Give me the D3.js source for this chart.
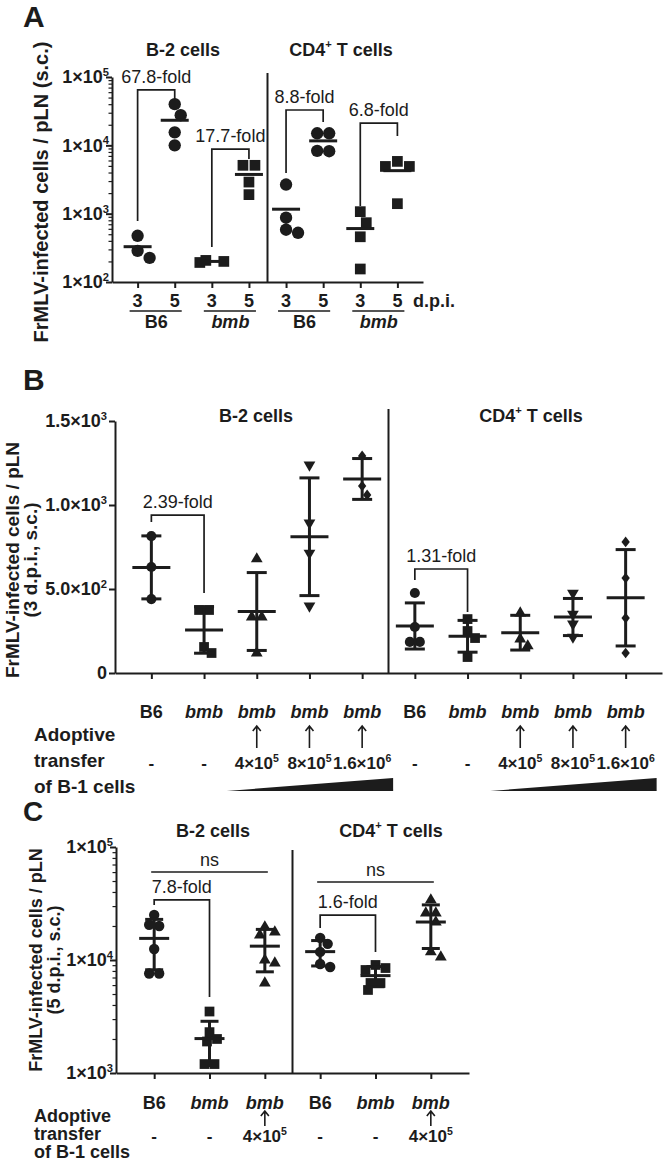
<!DOCTYPE html>
<html><head><meta charset="utf-8">
<script src="https://cdn.jsdelivr.net/npm/d3@7"></script>
<style>body{margin:0;background:#fff} svg{display:block}</style>
</head><body><svg id="c" width="666" height="1164"></svg>
<script>
// ================= DATA =================
// ---- Panel A (log scale, individual mice + mean) ----
const aDays = ["3","5","3","5","3","5","3","5"];
const aStrains = ["B6","bmb","B6","bmb"];
const aTitles = ["B-2 cells","CD4^{+} T cells"];
const aShapes = ["circle","circle","square","square","circle","circle","square","square"];
const aB2_B6_d3 = [475, 286, 225];
const aB2_B6_d5 = [40000, 27600, 15500, 10000];
const aB2_bmb_d3 = [207, 200, 193];
const aB2_bmb_d5 = [5100, 5100, 2900, 1900];
const aCD4_B6_d3 = [2670, 873, 582, 525];
const aCD4_B6_d5 = [15000, 15000, 8300, 8200];
const aCD4_bmb_d3 = [1070, 738, 459, 155];
const aCD4_bmb_d5 = [5820, 4910, 4910, 1400];
const aValues = [aB2_B6_d3, aB2_B6_d5, aB2_bmb_d3, aB2_bmb_d5, aCD4_B6_d3, aCD4_B6_d5, aCD4_bmb_d3, aCD4_bmb_d5];
const aYTicks = [1e2, 1e3, 1e4, 1e5];
const aYTickLabels = ["1×10^{2}","1×10^{3}","1×10^{4}","1×10^{5}"];
const aFolds = [
  {from:0, to:1, label:"67.8-fold", top:64600, left:781, right:47600},
  {from:2, to:3, label:"17.7-fold", top:8830, left:325, right:6310},
  {from:4, to:5, label:"8.8-fold", top:32900, left:3940, right:22000},
  {from:6, to:7, label:"6.8-fold", top:21200, left:1290, right:13700}
];

// ---- Panel B (linear scale, mean ± SD) ----
const bGenotypes = ["B6","bmb","bmb","bmb","bmb","B6","bmb","bmb","bmb","bmb"];
const bTransfer = ["-","-","4×10^{5}","8×10^{5}","1.6×10^{6}","-","-","4×10^{5}","8×10^{5}","1.6×10^{6}"];
const bTitles = ["B-2 cells","CD4^{+} T cells"];
const bShapes = ["circle","square","triangle","triangleDown","diamond","circle","square","triangle","triangleDown","diamond"];
const bB2_B6 = [815, 631, 440];
const bB2_bmb = [375, 375, 155, 119];
const bB2_bmb4e5 = [679, 333, 333, 119];
const bB2_bmb8e5 = [1238, 893, 714, 399];
const bB2_bmb16e6 = [1292, 1113, 1060];
const bCD4_B6 = [476, 274, 185, 185];
const bCD4_bmb = [321, 250, 208, 95];
const bCD4_bmb4e5 = [357, 202, 161];
const bCD4_bmb8e5 = [476, 351, 292, 214];
const bCD4_bmb16e6 = [780, 565, 327, 119];
const bValues = [bB2_B6, bB2_bmb, bB2_bmb4e5, bB2_bmb8e5, bB2_bmb16e6, bCD4_B6, bCD4_bmb, bCD4_bmb4e5, bCD4_bmb8e5, bCD4_bmb16e6];
const bYTicks = [0, 500, 1000, 1500];
const bYTickLabels = ["0","5.0×10^{2}","1.0×10^{3}","1.5×10^{3}"];
const bFolds = [
  {from:0, to:1, label:"2.39-fold", top:940, left:899, right:476},
  {from:5, to:6, label:"1.31-fold", top:619, left:554, right:363}
];

// ---- Panel C (log scale, mean ± SD) ----
const cGenotypes = ["B6","bmb","bmb","B6","bmb","bmb"];
const cTransfer = ["-","-","4×10^{5}","-","-","4×10^{5}"];
const cTitles = ["B-2 cells","CD4^{+} T cells"];
const cShapes = ["circle","square","triangle","circle","square","triangle"];
const cB2_B6 = [25000, 20500, 20000, 12500, 7600, 7600];
const cB2_bmb = [3500, 2300, 2000, 1900, 1200, 1200];
const cB2_bmb4e5 = [19600, 17700, 16600, 10000, 9400, 6250];
const cCD4_B6 = [15700, 13900, 11800, 9220, 8670];
const cCD4_bmb = [9040, 8490, 8160, 6260, 6260, 5430];
const cCD4_bmb4e5 = [34000, 26000, 26000, 21700, 11800, 10600];
const cValues = [cB2_B6, cB2_bmb, cB2_bmb4e5, cCD4_B6, cCD4_bmb, cCD4_bmb4e5];
const cYTicks = [1e3, 1e4, 1e5];
const cYTickLabels = ["1×10^{3}","1×10^{4}","1×10^{5}"];
const cFolds = [
  {from:0, to:1, label:"7.8-fold", top:34000, left:30700, right:4710},
  {from:3, to:4, label:"1.6-fold", top:25000, left:19200, right:11780}
];
const cNs = [
  {from:0, to:2, label:"ns", level:60100},
  {from:3, to:5, label:"ns", level:49000}
];
const rowLabels = ["Adoptive","transfer","of B-1 cells"];

// ================= DRAWING =================
const INK = "#1c1c1c";
const FONT = '"Liberation Sans", Arial, Helvetica, sans-serif';
const svg = d3.select("#c").attr("font-family", FONT);

function rich(t, str, fs){
  const parts = str.split(/(\^\{[^}]*\})/).filter(p => p !== "");
  let raised = false;
  const shift = fs * 0.42;
  parts.forEach(p => {
    const m = p.match(/^\^\{([^}]*)\}$/);
    if (m) {
      t.append("tspan").attr("dy", -shift).attr("font-size", fs * 0.62).text(m[1]);
      raised = true;
    } else {
      const s = t.append("tspan").text(p);
      if (raised) { s.attr("dy", shift); raised = false; }
    }
  });
}
function txt(g, x, y, str, o = {}){
  const fs = o.size || 18;
  const t = g.append("text").attr("x", x).attr("y", y)
    .attr("font-size", fs)
    .attr("font-weight", o.weight || "bold")
    .attr("font-style", o.italic ? "italic" : "normal")
    .attr("text-anchor", o.anchor || "middle")
    .attr("fill", INK);
  if (o.rotate) t.attr("transform", `rotate(-90,${x},${y})`);
  rich(t, str, fs);
  return t;
}
function symPath(shape, size){
  const map = {circle: d3.symbolCircle, square: d3.symbolSquare, triangle: d3.symbolTriangle,
               triangleDown: d3.symbolTriangle, diamond: d3.symbolDiamond2 || d3.symbolDiamond};
  return d3.symbol(map[shape], size)();
}
function swarm(vals, y, r){
  const pts = vals.map((v, i) => ({i, y: y(v)})).sort((a, b) => a.y - b.y);
  const placed = [], off = new Array(vals.length).fill(0);
  const step = r * 0.5;
  pts.forEach(p => {
    const c = [0]; for (let k = 1; k < 16; k++) c.push(k * step, -k * step);
    for (const cx of c) {
      if (placed.every(q => Math.hypot(q.x - cx, q.y - p.y) >= 2 * r - 0.5)) {
        off[p.i] = cx; placed.push({x: cx, y: p.y, i: p.i}); break;
      }
    }
  });
  const used = new Set();
  placed.forEach(p => {
    if (used.has(p.i)) return;
    const row = placed.filter(q => Math.abs(q.y - p.y) < 1.5);
    if (row.length > 1) {
      const m = d3.mean(row, q => q.x);
      row.forEach(q => { off[q.i] = q.x - m; used.add(q.i); });
    }
  });
  return off;
}
function styleAxis(sel, w){
  sel.selectAll(".domain, .tick line").attr("stroke", INK).attr("stroke-width", w);
  sel.selectAll(".tick text").remove();
}

function drawPanel(P){
  const g = svg.append("g");
  const n = P.values.length;
  const x = d3.scalePoint().domain(d3.range(n)).range([P.x0, P.x1]).padding(P.pad);
  const y = (P.log ? d3.scaleLog() : d3.scaleLinear()).domain(P.domain).range([P.yBot, P.yTop]);

  txt(g, P.letterX, P.letterY, P.letter, {size: P.letterFs || 30, anchor: "start"});

  if (P.log) {
    const minor = [];
    for (let e = Math.log10(P.domain[0]); e < Math.log10(P.domain[1]); e++)
      for (let k = 2; k <= 9; k++) minor.push(k * Math.pow(10, e));
    g.append("g").attr("transform", `translate(${P.x0},0)`)
      .call(d3.axisLeft(y).tickValues(minor).tickSize(3.5).tickFormat(""))
      .call(s => { s.select(".domain").remove(); styleAxis(s, 1.2); });
  }
  g.append("g").attr("transform", `translate(${P.x0},0)`)
    .call(d3.axisLeft(y).tickValues(P.yTicks).tickSize(6).tickSizeOuter(0).tickFormat(""))
    .call(s => styleAxis(s, 2));
  P.yTicks.forEach((v, i) => txt(g, P.x0 - P.lblGap, y(v) + P.tickFs * 0.36, P.yTickLabels[i], {anchor: "end", size: P.tickFs}));

  g.append("g").attr("transform", `translate(0,${P.yBot})`)
    .call(d3.axisBottom(x).tickSize(6).tickSizeOuter(0).tickFormat(""))
    .call(s => styleAxis(s, 2));

  const sepX = (x(n / 2 - 1) + x(n / 2)) / 2;
  g.append("line").attr("x1", sepX).attr("x2", sepX).attr("y1", P.sepTop).attr("y2", P.yBot)
    .attr("stroke", INK).attr("stroke-width", 2);

  P.titles.forEach((t, i) => txt(g, P.titleX[i], P.titleY, t, {size: 18}));
  P.yLabel.forEach((l, i) => txt(g, P.yLabelX[i], P.yLabelY, l, {size: P.yLabelFs, rotate: true}));

  P.values.forEach((vals, i) => {
    const shape = P.shapes[i];
    const size = P.sizes[shape];
    const off = swarm(vals, y, P.r);
    const cx = x(i);
    vals.forEach((v, j) => {
      g.append("path").attr("d", symPath(shape, size))
        .attr("transform", `translate(${cx + off[j]},${y(v)})${shape === "triangleDown" ? " rotate(180)" : ""}${shape === "diamond" ? " scale(0.9,1.15)" : ""}`)
        .attr("fill", INK);
    });
    const m = d3.mean(vals);
    if (P.sd) {
      const s = d3.deviation(vals);
      const lo = m - s, hi = m + s;
      g.append("line").attr("x1", cx).attr("x2", cx).attr("y1", y(lo)).attr("y2", y(hi))
        .attr("stroke", INK).attr("stroke-width", 3);
      [lo, hi].forEach(v => g.append("line").attr("x1", cx - P.capW).attr("x2", cx + P.capW)
        .attr("y1", y(v)).attr("y2", y(v)).attr("stroke", INK).attr("stroke-width", 3));
    }
    g.append("line").attr("x1", cx - P.meanW).attr("x2", cx + P.meanW)
      .attr("y1", y(m)).attr("y2", y(m)).attr("stroke", INK).attr("stroke-width", 3);
  });

  P.folds.forEach(f => {
    const x1 = x(f.from), x2 = x(f.to), yt = y(f.top);
    g.append("path").attr("d", `M${x1},${y(f.left)}V${yt}H${x2}V${y(f.right)}`)
      .attr("fill", "none").attr("stroke", INK).attr("stroke-width", 1.7);
    txt(g, (x1 + x2) / 2, yt - 7, f.label, {weight: "normal", size: 18});
  });
  (P.ns || []).forEach(f => {
    const yl = y(f.level);
    g.append("line").attr("x1", x(f.from) - 3).attr("x2", x(f.to) + 3).attr("y1", yl).attr("y2", yl)
      .attr("stroke", INK).attr("stroke-width", 1.7);
    txt(g, (x(f.from) + x(f.to)) / 2, yl - 6, f.label, {weight: "normal", size: 18});
  });
  return {g, x, y};
}

// ---------- Panel A ----------
{
  const {g, x} = drawPanel({
    letter: "A", letterX: 23, letterY: 27,
    values: aValues, shapes: aShapes, log: true, domain: [1e2, 1e5],
    x0: 112, x1: 423, pad: 0.69, yTop: 77, yBot: 282,
    yTicks: aYTicks, yTickLabels: aYTickLabels, tickFs: 18, lblGap: 3,
    sepTop: 73, titles: aTitles, titleX: [183, 341], titleY: 56,
    yLabel: ["FrMLV-infected cells / pLN (s.c.)"], yLabelX: [48], yLabelY: 192, yLabelFs: 20,
    sizes: {circle: 120, square: 115}, r: 6, sd: false, meanW: 14, capW: 0,
    folds: aFolds
  });
  aDays.forEach((d, i) => txt(g, x(i), 307, d, {size: 18}));
  aStrains.forEach((s, k) => {
    const xa = x(2 * k), xb = x(2 * k + 1);
    g.append("line").attr("x1", xa - 8).attr("x2", xb + 7).attr("y1", 311).attr("y2", 311)
      .attr("stroke", INK).attr("stroke-width", 1.7);
    txt(g, (xa + xb) / 2, 328, s, {size: 18, italic: s === "bmb"});
  });
  txt(g, 413, 307, "d.p.i.", {size: 18, anchor: "start"});
}

function drawArrow(g, cx, yTop, yBot){
  g.append("path").attr("d", `M${cx},${yBot}V${yTop}M${cx - 4},${yTop + 5}L${cx},${yTop}L${cx + 4},${yTop + 5}`)
    .attr("fill", "none").attr("stroke", INK).attr("stroke-width", 1.6);
}

// ---------- Panel B ----------
{
  const {g, x} = drawPanel({
    letter: "B", letterX: 23, letterY: 390,
    values: bValues, shapes: bShapes, log: false, domain: [0, 1500],
    x0: 115, x1: 662, pad: 0.69, yTop: 421, yBot: 673,
    yTicks: bYTicks, yTickLabels: bYTickLabels, tickFs: 18, lblGap: 8,
    sepTop: 409, titles: bTitles, titleX: [256, 531], titleY: 422,
    yLabel: ["FrMLV-infected cells / pLN", "(3 d.p.i., s.c.)"], yLabelX: [19, 37], yLabelY: 560, yLabelFs: 19,
    sizes: {circle: 80, square: 95, triangle: 60, triangleDown: 60, diamond: 55}, r: 5, sd: true, meanW: 19, capW: 10,
    folds: bFolds
  });
  bGenotypes.forEach((s, i) => txt(g, x(i), 718, s, {size: 18, italic: s === "bmb"}));
  rowLabels.forEach((l, k) => txt(g, 34, 741 + k * 26, l, {size: 19, anchor: "start"}));
  bTransfer.forEach((t, i) => {
    txt(g, x(i), 769, t, {size: 17});
    if (t !== "-") drawArrow(g, x(i), 726, 748);
  });
  [[2, 4], [7, 9]].forEach(([a, b]) => {
    g.append("path").attr("d", `M${x(a) - 30},${791}L${x(b) + 31},${791}L${x(b) + 31},${778}Z`).attr("fill", INK);
  });
}

// ---------- Panel C ----------
{
  const {g, x} = drawPanel({
    letter: "C", letterX: 23, letterY: 821, letterFs: 28,
    values: cValues, shapes: cShapes, log: true, domain: [1e3, 1e5],
    x0: 116, x1: 469, pad: 0.69, yTop: 847, yBot: 1073,
    yTicks: cYTicks, yTickLabels: cYTickLabels, tickFs: 18, lblGap: 3,
    sepTop: 850, titles: cTitles, titleX: [213, 391], titleY: 837,
    yLabel: ["FrMLV-infected cells / pLN", "(5 d.p.i., s.c.)"], yLabelX: [42, 60], yLabelY: 960, yLabelFs: 18,
    sizes: {circle: 85, square: 95, triangle: 60}, r: 5, sd: true, meanW: 15, capW: 9,
    folds: cFolds, ns: cNs
  });
  cGenotypes.forEach((s, i) => txt(g, x(i), 1109, s, {size: 18, italic: s === "bmb"}));
  rowLabels.forEach((l, k) => txt(g, 34, 1122 + k * 18, l, {size: 18, anchor: "start"}));
  cTransfer.forEach((t, i) => {
    txt(g, x(i), 1142, t, {size: 17});
    if (t !== "-") drawArrow(g, x(i), 1111, 1126);
  });
}
</script></body></html>
